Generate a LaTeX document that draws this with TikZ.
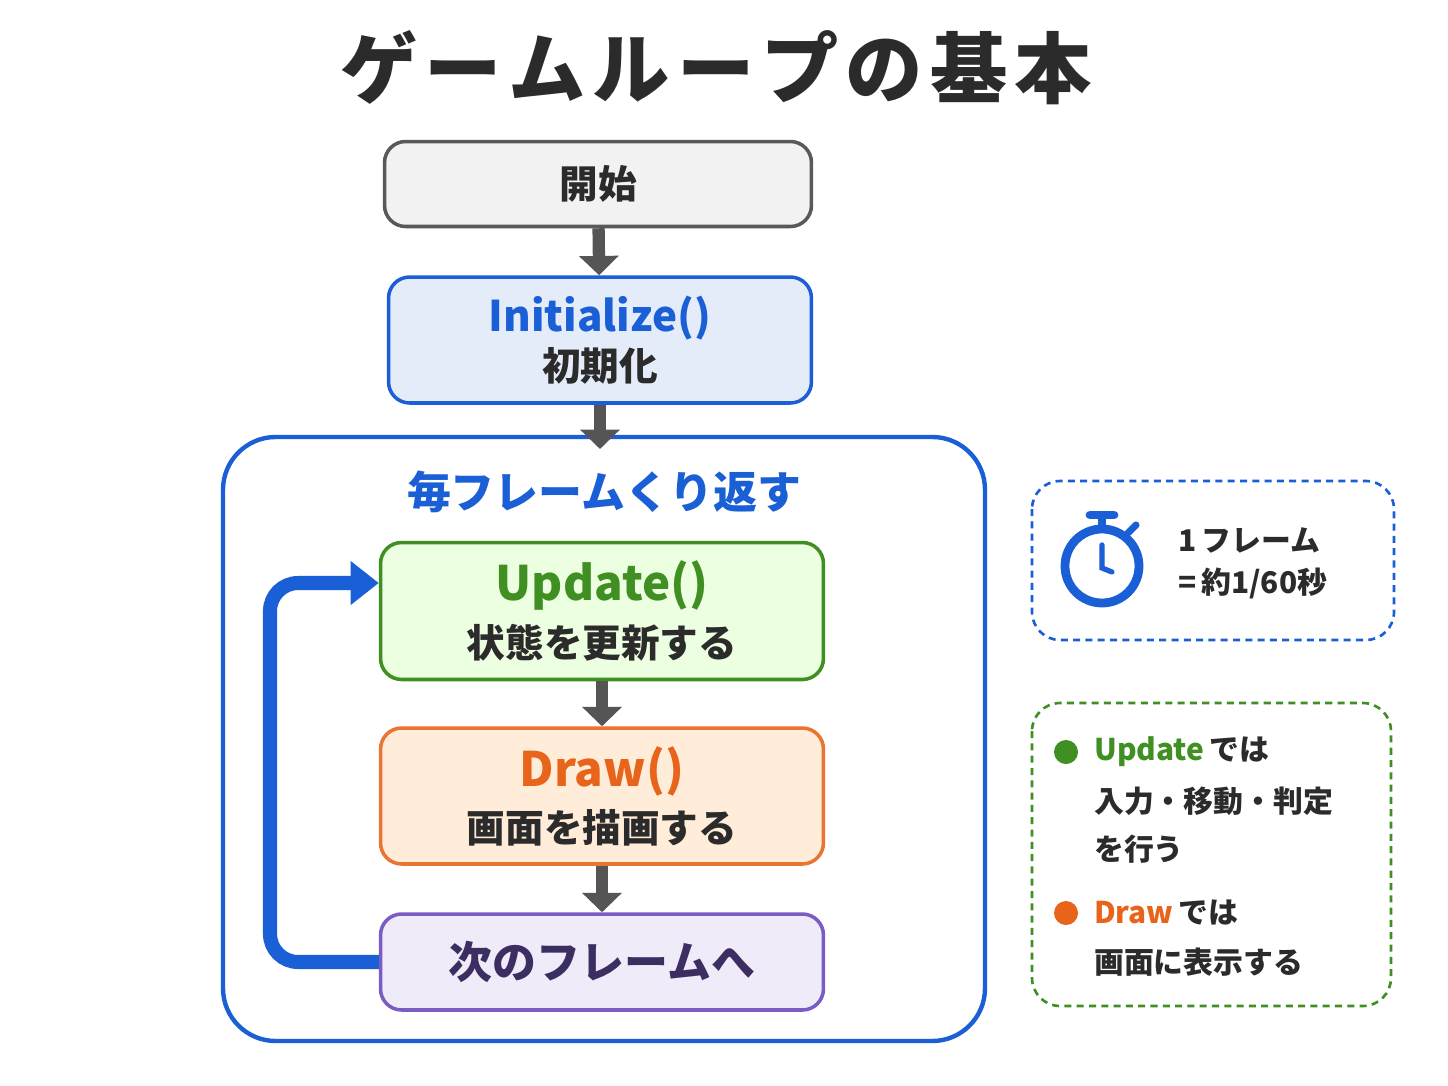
\documentclass[tikz,border=0pt]{standalone}
\usepackage{fontspec}
\setmainfont{Noto Sans CJK JP}
\usetikzlibrary{arrows.meta,positioning}
\definecolor{ublue}{HTML}{1A5FD6}
\definecolor{ugreen}{HTML}{3F8F22}
\definecolor{uorange}{HTML}{E8641A}
\definecolor{upurple}{HTML}{7B5CC4}
\definecolor{udark}{HTML}{2B2B2B}
\newcommand{\tsp}{\kern4pt}
\tikzset{
  stepbox/.style={draw,rounded corners=12pt,line width=2pt,minimum width=8.86cm,align=center,font=\bfseries\fontsize{22}{30}\selectfont,text=udark},
  flow/.style={draw=udark!80,line width=7pt,-{Triangle[width=22pt,length=11pt]}},
  sidetext/.style={anchor=west,font=\bfseries\fontsize{17}{20}\selectfont,text=udark}
}
\begin{document}
\begin{tikzpicture}[x=0.02cm,y=-0.02cm]
\useasboundingbox[fill=white] (0,0) rectangle (1448,1086);
\node[font=\bfseries\fontsize{44}{50}\selectfont,text=udark] (title) at (716,68) {ゲ\tsp ー\tsp ム\tsp ル\tsp ー\tsp プ\tsp の\tsp 基\tsp 本};
% flow
\node[stepbox,draw=gray!70!black,fill=gray!10,minimum width=8.54cm,minimum height=1.7cm] (start) at (598,184) {開始};
\node[stepbox,draw=ublue,fill=ublue!12,minimum width=8.46cm,minimum height=2.52cm] (init) at (600,340)
  {{\color{ublue}\fontsize{24}{30}\selectfont Initialize()}\\[-2pt]初期化};
\draw[rounded corners=30pt,draw=ublue,line width=2.5pt] (223,437) rectangle (985,1041);
\node[font=\bfseries\fontsize{25}{30}\selectfont,text=ublue] (loop) at (604,492) {毎フレームくり返す};
\node[stepbox,draw=ugreen,fill=green!50!lime!12,minimum height=2.74cm] (upd) at (602,611)
  {{\color{ugreen}\fontsize{27}{32}\selectfont Update()}\\[2pt]状態を更新する};
\node[stepbox,draw=uorange!90,fill=orange!15,minimum height=2.72cm] (drw) at (602,796)
  {{\color{uorange}\fontsize{27}{32}\selectfont Draw()}\\[2pt]画面を描画する};
\node[stepbox,draw=upurple,fill=upurple!12,minimum height=1.92cm,text=upurple!50!black,font=\bfseries\fontsize{25}{30}\selectfont] (next) at (602,962) {次のフレームへ};
\coordinate (cin) at (600,449);
\draw[flow] (start) -- (init);
\draw[flow] (init) -- (cin);
\draw[flow] (upd) -- (drw);
\draw[flow] (drw) -- (next);
\draw[ublue,line width=8pt,rounded corners=16pt,-{Triangle[width=24pt,length=16pt]}] (next.west) -- (next.west -| 270,0) -- (270,583) -- (upd.west |- 0,583);
% side notes
\draw[ublue,dash pattern=on 4pt off 3pt,line width=1.5pt,rounded corners=16pt] (1032,481) rectangle (1394,640);
\draw[ublue,line width=5pt] (1102,566) circle (37);
\draw[ublue,line width=5pt] (1102,529) -- (1102,517);
\draw[ublue,line width=5pt,line cap=round] (1090,515) -- (1114,515);
\draw[ublue,line width=4pt,line cap=round] (1128,533) -- (1136,525);
\draw[ublue,line width=3pt,line cap=round] (1102,545) -- (1102,568) -- (1112,572);
\node[sidetext] (fr1) at (1172,540) {1\,フレーム};
\node[sidetext] (fr2) at (1172,583) {=\,約1/60秒};
\draw[ugreen,dash pattern=on 4pt off 3pt,line width=1.5pt,rounded corners=16pt] (1032,703) rectangle (1391,1006);
\fill[ugreen] (1066,752) circle (12);
\node[sidetext] (n1) at (1088,752) {{\color{ugreen}Update}\,では};
\node[sidetext] (n2) at (1088,801) {入力・移動・判定};
\node[sidetext] (n3) at (1088,849) {を行う};
\fill[uorange] (1066,913) circle (12);
\node[sidetext] (n4) at (1088,913) {{\color{uorange}Draw}\,では};
\node[sidetext] (n5) at (1088,962) {画面に表示する};
\end{tikzpicture}
\end{document}
